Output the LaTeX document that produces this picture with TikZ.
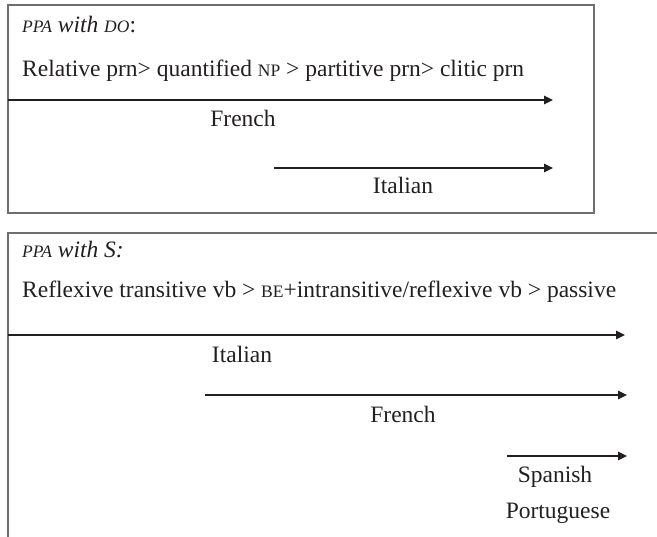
\documentclass[tikz,border=0pt]{standalone}
\usepackage{fontspec}
\setmainfont{Liberation Serif}
\usetikzlibrary{arrows.meta}
\definecolor{ink}{HTML}{231F20}
\definecolor{framegray}{HTML}{6D6E71}
% small capitals imitated by reduced capitals
\newcommand\smcap[1]{{\fontsize{17.5}{17.5}\selectfont #1}}
\begin{document}
\begin{tikzpicture}[x=1pt,y=-1pt,
  txt/.style={inner sep=0pt, text=ink, font=\fontsize{23.5}{27}\selectfont},
  line/.style={anchor=base west, txt},
  lang/.style={anchor=base, txt},
  scale line/.style={draw=ink, line width=1.1pt, -{Triangle[length=9pt,width=8.5pt]}},
  panel/.style={draw=framegray, line width=1.3pt}
]
\useasboundingbox (0,0) rectangle (657,537);

% ---- upper panel: agreement with the direct object
\draw[panel] (8,5) rectangle (594,213);
\node[line] (headDO) at (22,33) {\itshape\smcap{PPA} with \smcap{DO}\upshape:};
\node[line] (hierDO) at (22,77) {Relative prn> quantified \smcap{NP} > partitive prn> clitic prn};

\coordinate (frA) at (8,100);   \coordinate (frB) at (553,100);
\coordinate (itA) at (274,168); \coordinate (itB) at (553,168);
\draw[scale line] (frA) -- (frB);
\draw[scale line] (itA) -- (itB);
\node[lang] (frDO) at (243,127) {French};
\node[lang] (itDO) at (403,194) {Italian};

% ---- lower panel: agreement with the subject
\draw[panel] (657,233) -- (8,233) -- (8,537);
\node[line] (headS) at (22,258) {\itshape\smcap{PPA} with S:};
\node[line] (hierS) at (22,298) {Reflexive transitive vb > \smcap{BE}+intransitive/reflexive vb > passive};

\coordinate (sitA) at (8,335);   \coordinate (sitB) at (625,335);
\coordinate (sfrA) at (205,395); \coordinate (sfrB) at (627,395);
\coordinate (sspA) at (507,456); \coordinate (sspB) at (627,456);
\draw[scale line] (sitA) -- (sitB);
\draw[scale line] (sfrA) -- (sfrB);
\draw[scale line] (sspA) -- (sspB);
\node[lang] (itS) at (242,363) {Italian};
\node[lang] (frS) at (403,423) {French};
\node[lang] (spS) at (555,483) {Spanish};
\node[lang] (ptS) at (558,519) {Portuguese};
\end{tikzpicture}
\end{document}
